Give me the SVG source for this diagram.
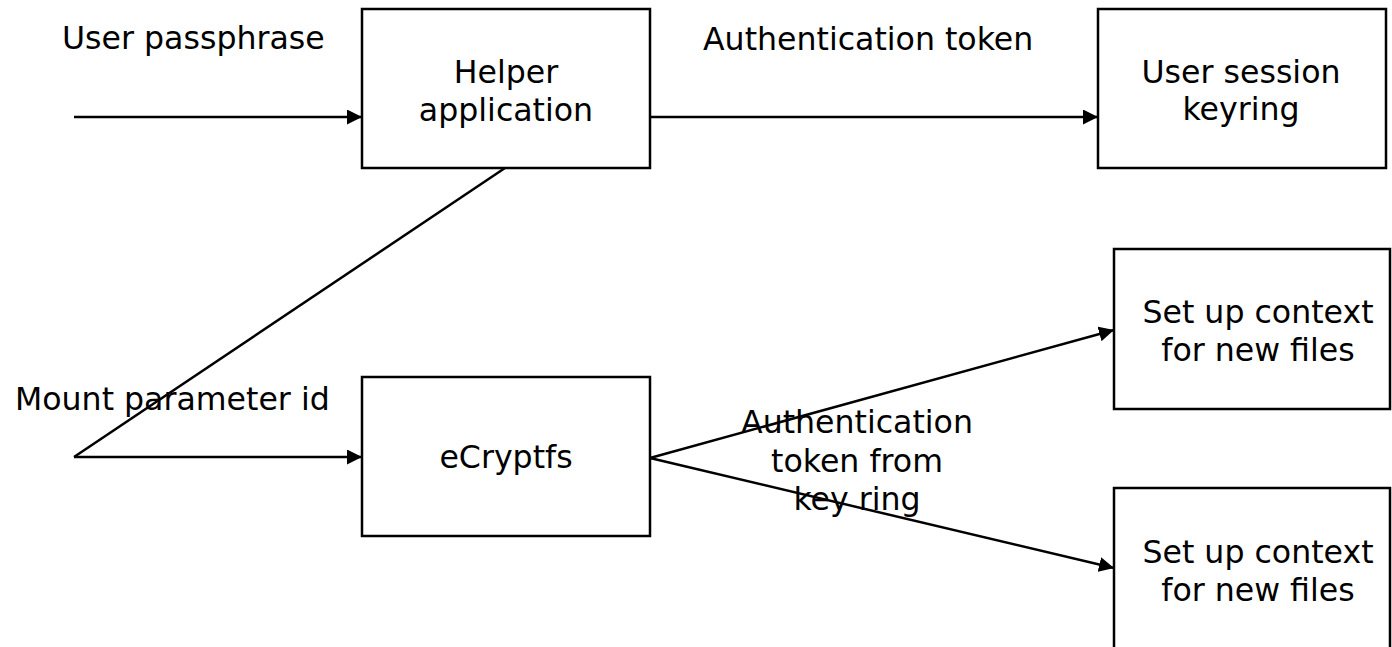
<svg xmlns="http://www.w3.org/2000/svg" width="1392" height="647" viewBox="0 0 1392 647">
<style>
.box{fill:#fff;stroke:#000;stroke-width:2.5}
.ln{stroke:#000;stroke-width:2.5;fill:none}
text{font-family:"DejaVu Sans",Verdana,sans-serif;font-size:31.6px;fill:#000}
.c{text-anchor:middle}
</style>
<defs>
<marker id="ah" viewBox="0 0 10 10" refX="10" refY="5" markerWidth="15" markerHeight="15" orient="auto" markerUnits="userSpaceOnUse">
<path d="M0,0 L10,5 L0,10 Z" fill="#000"/>
</marker>
</defs>
<rect width="1392" height="647" fill="#fff"/>
<g id="connectors">
<line class="ln" x1="74" y1="117" x2="362" y2="117" marker-end="url(#ah)"/>
<line class="ln" x1="650" y1="117" x2="1098" y2="117" marker-end="url(#ah)"/>
<line class="ln" x1="74" y1="457" x2="362" y2="457" marker-end="url(#ah)"/>
<line class="ln" x1="74" y1="457" x2="505" y2="168"/>
<line class="ln" x1="650" y1="458" x2="1114" y2="330" marker-end="url(#ah)"/>
<line class="ln" x1="650" y1="458" x2="1114" y2="568" marker-end="url(#ah)"/>
<text x="62" y="49">User passphrase</text>
<text x="703" y="50">Authentication token</text>
<text x="15" y="410">Mount parameter id</text>
<text class="c" x="857" y="433">Authentication</text>
<text class="c" x="857" y="472">token from</text>
<text class="c" x="857" y="510">key ring</text>
</g>
<g id="helper">
<rect class="box" x="362" y="9" width="288" height="159"/>
<text class="c" x="506" y="83">Helper</text>
<text class="c" x="506" y="121">application</text>
</g>
<g id="keyring">
<rect class="box" x="1098" y="9" width="288" height="159"/>
<text class="c" x="1241" y="83">User session</text>
<text class="c" x="1241" y="120">keyring</text>
</g>
<g id="ecryptfs">
<rect class="box" x="362" y="377" width="288" height="159"/>
<text class="c" x="506" y="468">eCryptfs</text>
</g>
<g id="context1">
<rect class="box" x="1114" y="249" width="276" height="160"/>
<text class="c" x="1258" y="323">Set up context</text>
<text class="c" x="1258" y="361">for new files</text>
</g>
<g id="context2">
<rect class="box" x="1114" y="488" width="276" height="170"/>
<text class="c" x="1258" y="563">Set up context</text>
<text class="c" x="1258" y="601">for new files</text>
</g>
</svg>
